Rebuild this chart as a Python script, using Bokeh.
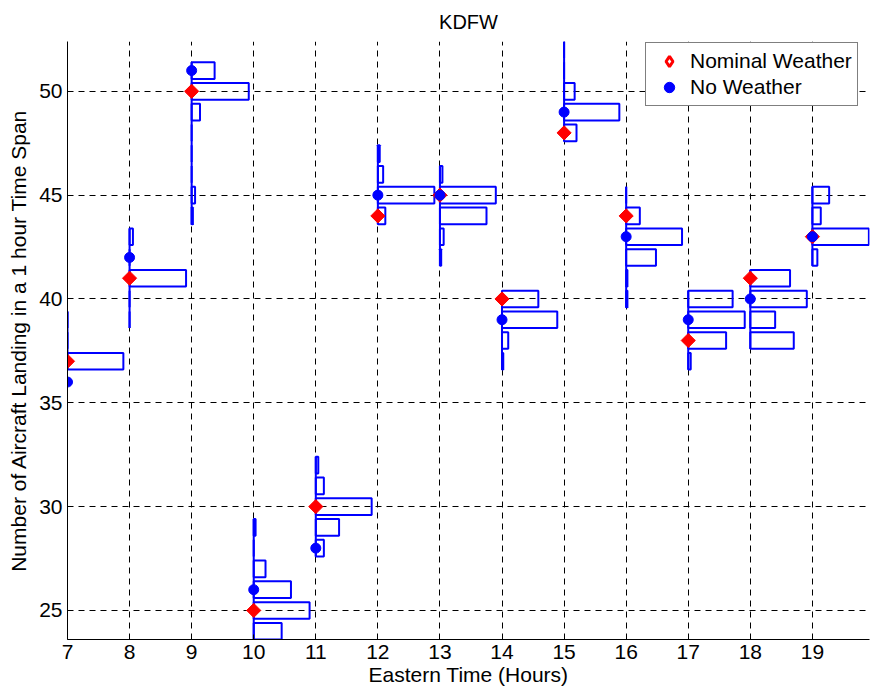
import math
from bokeh.plotting import figure
from bokeh.models import Range1d, FixedTicker, Legend, LegendItem, ColumnDataSource
from bokeh.embed import file_html
from bokeh.resources import INLINE

# ---- data ----
hours = [7, 8, 9, 10, 11, 12, 13, 14, 15, 16, 17, 18, 19]
nominal_weather = [37, 41, 50, 25, 30, 44, 45, 40, 48, 44, 38, 41, 43]
no_weather = [36, 42, 51, 26, 28, 45, 45, 39, 49, 43, 39, 40, 43]

# first histogram bin (aircraft count) for each hour
first_bin = [37, 39, 44, 24, 28, 44, 42, 37, 48, 40, 37, 38, 42]
# horizontal bar lengths (fraction of an hour), one list per hour, from first_bin upward
w07 = [0.90, 0.0, 0.0]
w08 = [0.0, 0.0, 0.91, 0.0, 0.054]
w09 = [0.02, 0.055, 0.0, 0.0, 0.0, 0.135, 0.92, 0.37]
w10 = [0.45, 0.90, 0.60, 0.19, 0.0, 0.03]
w11 = [0.13, 0.375, 0.90, 0.13, 0.04]
w12 = [0.12, 0.91, 0.085, 0.03]
w13 = [0.02, 0.06, 0.75, 0.90, 0.04]
w14 = [0.02, 0.10, 0.89, 0.585]
w15 = [0.20, 0.89, 0.17, 0.0, 0.0]
w16 = [0.02, 0.02, 0.48, 0.90, 0.22, 0.0]
w17 = [0.04, 0.61, 0.91, 0.715]
w18 = [0.70, 0.40, 0.91, 0.64]
w19 = [0.08, 0.91, 0.135, 0.27]
widths = [w07, w08, w09, w10, w11, w12, w13, w14, w15, w16, w17, w18, w19]

x_ticks = list(range(7, 20))
y_ticks = [25, 30, 35, 40, 45, 50]

BAR_H = 0.8
FONT = "Liberation Sans"

# ---- build sources ----
left, right, bottom, top = [], [], [], []
bx, by0, by1 = [], [], []
for h, b0, ws in zip(hours, first_bin, widths):
    for i, w in enumerate(ws):
        c = b0 + i
        left.append(h)
        right.append(h + w)
        bottom.append(c - BAR_H / 2)
        top.append(c + BAR_H / 2)
    bx.append(h)
    by0.append(b0 - BAR_H / 2)
    by1.append(b0 + len(ws) - 1 + BAR_H / 2)

bars = ColumnDataSource(dict(left=left, right=right, bottom=bottom, top=top))
bases = ColumnDataSource(dict(x=bx, y0=by0, y1=by1))

p = figure(width=871, height=692, output_backend="svg", toolbar_location=None,
           x_range=Range1d(7, 19.92), y_range=Range1d(23.6, 52.4),
           min_border_left=67, min_border_right=2, min_border_top=40,
           min_border_bottom=53, title="KDFW")
p.outline_line_color = None
p.background_fill_color = "white"
p.border_fill_color = "white"

p.title.align = "center"
p.title.text_font = FONT
p.title.text_font_size = "20px"
p.title.text_font_style = "normal"
p.title.text_color = "black"
p.title.standoff = 17

for ax in (p.xaxis[0], p.yaxis[0]):
    ax.major_label_text_font = FONT
    ax.major_label_text_font_size = "21px"
    ax.major_label_text_color = "black"
    ax.axis_label_text_font = FONT
    ax.axis_label_text_font_size = "21px"
    ax.axis_label_text_font_style = "normal"
    ax.axis_label_text_color = "black"
    ax.axis_line_color = "black"
    ax.major_tick_line_color = "black"
    ax.major_tick_in = 5
    ax.major_tick_out = 0
    ax.minor_tick_line_color = None
    ax.major_label_standoff = 5

p.xaxis.ticker = FixedTicker(ticks=x_ticks)
p.yaxis.ticker = FixedTicker(ticks=y_ticks)
p.xaxis.axis_label = "Eastern Time (Hours)"
p.yaxis.axis_label = "Number of Aircraft Landing in a 1 hour Time Span"
p.xaxis.axis_label_standoff = 1
p.yaxis.axis_label_standoff = 6

p.xgrid.ticker = FixedTicker(ticks=x_ticks)
p.ygrid.ticker = FixedTicker(ticks=y_ticks)
for g in (p.xgrid[0], p.ygrid[0]):
    g.grid_line_color = "black"
    g.grid_line_dash = "6 5"
    g.grid_line_width = 1

p.quad(left="left", right="right", bottom="bottom", top="top", source=bars,
       fill_color=None, line_color="blue", line_width=2)
p.segment(x0="x", y0="y0", x1="x", y1="y1", source=bases,
          line_color="blue", line_width=2)

p.scatter(hours, nominal_weather, marker="square", angle=math.pi / 4, size=10,
          fill_color="red", line_color="red", line_width=1)
p.scatter(hours, no_weather, marker="circle", size=10,
          fill_color="blue", line_color="blue")

# legend proxies placed outside the visible range (outlined diamond as in the reference legend)
leg_nom = p.scatter([-100], [-100], marker="diamond", size=12,
                    fill_color="white", line_color="red", line_width=3)
leg_no = p.scatter([-100], [-100], marker="circle", size=10,
                   fill_color="blue", line_color="blue")

legend = Legend(items=[LegendItem(label="Nominal Weather", renderers=[leg_nom]),
                       LegendItem(label="No Weather", renderers=[leg_no])],
                location=(578, 533))
legend.label_text_font = FONT
legend.label_text_font_size = "21px"
legend.label_text_color = "black"
legend.border_line_color = "black"
legend.border_line_width = 1
legend.background_fill_color = "white"
legend.background_fill_alpha = 1
legend.padding = 5
legend.spacing = -2
legend.glyph_width = 36
legend.glyph_height = 26
legend.label_height = 20
legend.label_standoff = 3
legend.margin = 0
p.add_layout(legend)

open("out.html", "w").write(file_html(p, INLINE))
